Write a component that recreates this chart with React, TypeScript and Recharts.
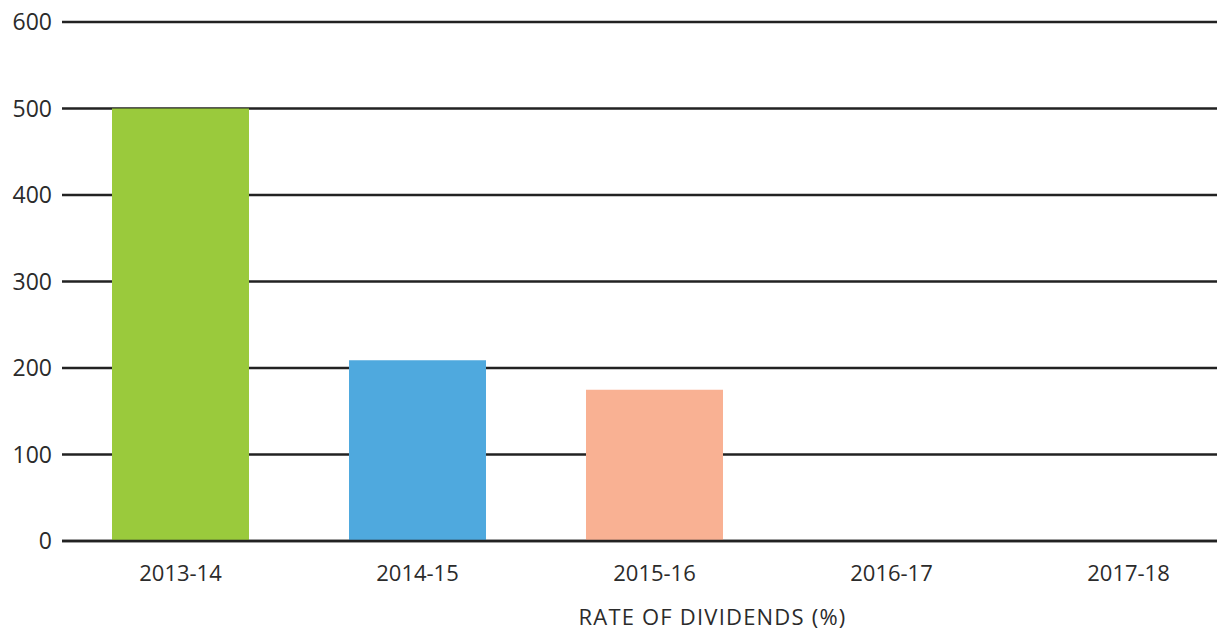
import React from 'react';
import { BarChart, Bar, Cell, CartesianGrid, XAxis, YAxis, Label } from 'recharts';

const years = ['2013-14', '2014-15', '2015-16', '2016-17', '2017-18'];
const dividends = [500, 209, 175, 0, 0];
const barColors = ['#9ACA3C', '#4FA9DE', '#F9B193', '#9ACA3C', '#4FA9DE'];
const yTicks = [0, 100, 200, 300, 400, 500, 600];

const data = years.map((year, i) => ({ year, rate: dividends[i] }));

const font = '"Open Sans", sans-serif';
const textColor = '#2b2b2b';

export default function App() {
    return (
        <div style={{ position: 'absolute', left: 0, top: 0, width: 1217, height: 633, overflow: 'hidden', background: '#fff' }}>
            <BarChart width={1247} height={633} data={data} margin={{ top: 22, right: 0, bottom: 0, left: 0 }}>
                <CartesianGrid stroke="#222" strokeWidth={2.5} vertical={false} />
                <XAxis
                    dataKey="year"
                    height={92}
                    axisLine={{ stroke: '#222', strokeWidth: 2.5 }}
                    tickLine={false}
                    tickMargin={18}
                    tick={{ fill: textColor, fontSize: 22, fontFamily: font }}
                >
                    <Label
                        value="RATE OF DIVIDENDS (%)"
                        position="insideBottom"
                        offset={8}
                        dx={58}
                        style={{ fill: textColor, fontSize: 22, fontFamily: font, letterSpacing: 1.2 }}
                    />
                </XAxis>
                <YAxis
                    width={62}
                    domain={[0, 600]}
                    ticks={yTicks}
                    axisLine={false}
                    tickLine={false}
                    tickMargin={4}
                    tick={{ fill: textColor, fontSize: 23, fontFamily: font }}
                />
                <Bar dataKey="rate" barSize={137} isAnimationActive={false}>
                    {data.map((d, i) => (
                        <Cell key={d.year} fill={barColors[i]} />
                    ))}
                </Bar>
            </BarChart>
        </div>
    );
}
